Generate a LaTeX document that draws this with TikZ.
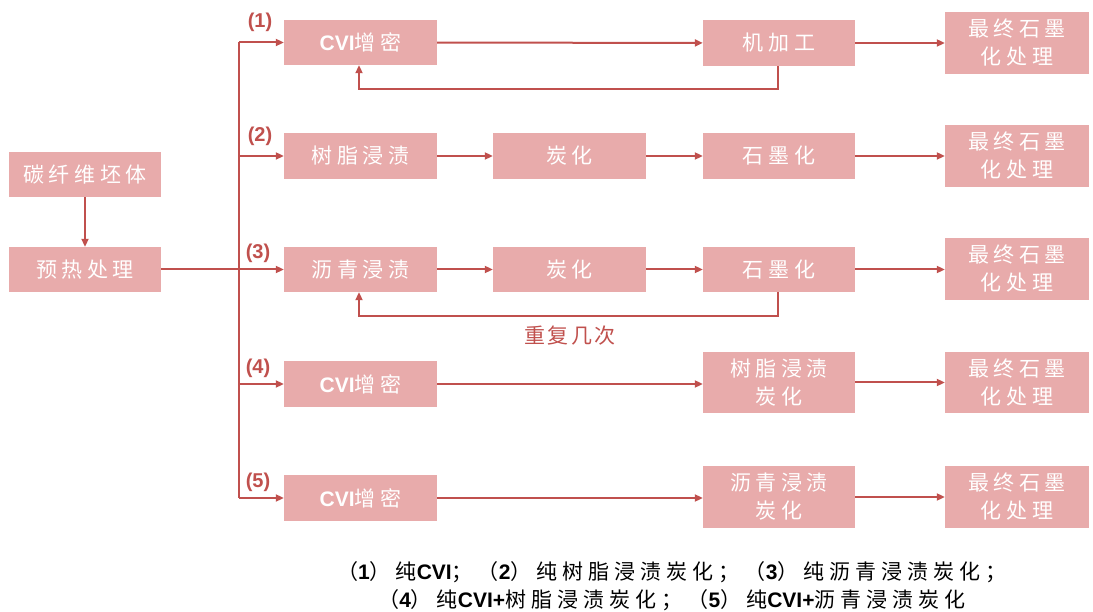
\documentclass[tikz,border=0pt]{standalone}
\usepackage{fontspec}
\setmainfont{Liberation Sans}
\newfontfamily\cjk{Noto Sans CJK SC}
\usetikzlibrary{arrows.meta}
\definecolor{boxpink}{HTML}{E8ABAB}
\definecolor{linered}{HTML}{C0504D}
\tikzset{
  pbox/.style={fill=boxpink, draw=none, text=white, inner sep=0pt, align=center,
    font=\fontsize{21}{28}\selectfont\cjk\addfontfeature{LetterSpace=22}},
  conn/.style={draw=linered, line width=2pt, -{Triangle[length=8pt,width=7pt]}},
  plain/.style={draw=linered, line width=2pt},
  numlab/.style={text=linered, font=\fontsize{20}{22}\selectfont\bfseries},
  notetext/.style={text=black, font=\fontsize{21}{28}\selectfont\cjk\addfontfeature{LetterSpace=24}, align=center},
}
\newcommand{\mkbox}[6]{\node[pbox, minimum width=#3-#1, minimum height=#4-#2] (#5) at ({(#1+#3)/2},{(#2+#4)/2}) {#6};}
\newcommand{\lat}[1]{{\fontspec{Liberation Sans}\bfseries #1}}
\begin{document}
\begin{tikzpicture}[x=1pt,y=-1pt]
\useasboundingbox (0,0) rectangle (1093,612);
% left
\mkbox{9}{152}{161}{197}{blank}{碳纤维坯体}
\mkbox{9}{247}{161}{292}{pre}{预热处理}
% column 2
\mkbox{284}{20}{437}{65}{a1}{\lat{CVI}增密}
\mkbox{284}{133}{437}{179}{a2}{树脂浸渍}
\mkbox{284}{247}{437}{292}{a3}{沥青浸渍}
\mkbox{284}{361}{437}{407}{a4}{\lat{CVI}增密}
\mkbox{284}{475}{437}{521}{a5}{\lat{CVI}增密}
% column 3
\mkbox{493}{133}{646}{179}{b2}{炭化}
\mkbox{493}{247}{646}{292}{b3}{炭化}
% column 4
\mkbox{703}{20}{855}{66}{c1}{机加工}
\mkbox{703}{133}{855}{179}{c2}{石墨化}
\mkbox{703}{247}{855}{292}{c3}{石墨化}
\mkbox{703}{352}{855}{413}{c4}{树脂浸渍\\炭化}
\mkbox{703}{466}{855}{528}{c5}{沥青浸渍\\炭化}
% column 5
\mkbox{945}{12}{1089}{74}{d1}{最终石墨\\化处理}
\mkbox{945}{125}{1089}{187}{d2}{最终石墨\\化处理}
\mkbox{945}{238}{1089}{300}{d3}{最终石墨\\化处理}
\mkbox{945}{352}{1089}{413}{d4}{最终石墨\\化处理}
\mkbox{945}{466}{1089}{528}{d5}{最终石墨\\化处理}
% trunk
\coordinate (t1) at (239,42.5);
\coordinate (t5) at (239,498);
\coordinate (tp) at (239,269.5);
\draw[conn] (blank) -- (pre);
\draw[plain] (pre.east) -- (tp);
\draw[plain] (t1) -- (t5);
\foreach \n in {a1,a2,a3,a4,a5}{
  \draw[conn] (\n.west -| t1) -- (\n.west);
}
% row arrows
\draw[conn] (a1) -- (c1);
\draw[conn] (c1) -- (c1 -| d1.west);
\draw[conn] (a2) -- (b2);
\draw[conn] (b2) -- (c2);
\draw[conn] (c2) -- (c2 -| d2.west);
\draw[conn] (a3) -- (b3);
\draw[conn] (b3) -- (c3);
\draw[conn] (c3) -- (c3 -| d3.west);
\draw[conn] (a4) -- (a4 -| c4.west);
\draw[conn] (c4) -- (d4);
\draw[conn] (a5) -- (a5 -| c5.west);
\draw[conn] (c5) -- (d5);
% feedback loops
\coordinate (f1a) at (778,89);
\coordinate (f1b) at (359,89);
\draw[conn] (c1.south -| f1a) -- (f1a) -- (f1b) -- (a1.south -| f1b);
\coordinate (f3a) at (778,316);
\coordinate (f3b) at (359,316);
\draw[conn] (c3.south -| f3a) -- (f3a) -- (f3b) -- (a3.south -| f3b);
\node[text=linered, font=\fontsize{21}{24}\selectfont\cjk\addfontfeature{LetterSpace=12}] (rep) at (570,336) {重复几次};
% labels
\node[numlab] (l1) at (260,22) {(1)};
\node[numlab] (l2) at (260,136) {(2)};
\node[numlab] (l3) at (258,253) {(3)};
\node[numlab] (l4) at (258,368) {(4)};
\node[numlab] (l5) at (258,482) {(5)};
% note
\node[notetext] (note) at (672,586) {（\lat{1}）纯\lat{CVI}；（\lat{2}）纯树脂浸渍炭化；（\lat{3}）纯沥青浸渍炭化；\\（\lat{4}）纯\lat{CVI+}树脂浸渍炭化；（\lat{5}）纯\lat{CVI+}沥青浸渍炭化};
\end{tikzpicture}
\end{document}
